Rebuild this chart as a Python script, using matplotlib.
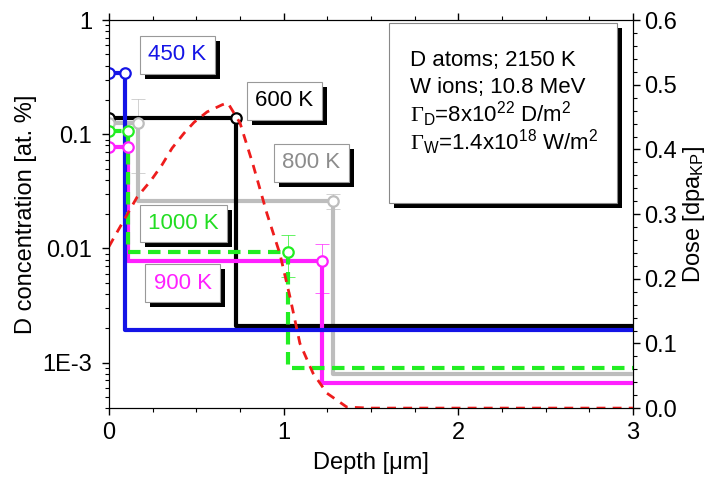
import numpy as np
import matplotlib
matplotlib.use("Agg")
import matplotlib.pyplot as plt
from matplotlib import patheffects as pe
from matplotlib.patches import Rectangle
from matplotlib.ticker import (FixedLocator, FixedFormatter, MultipleLocator,
                               LogLocator, NullFormatter, FormatStrFormatter)

plt.rcParams['font.family'] = ['Liberation Sans', 'DejaVu Sans']
plt.rcParams['mathtext.fontset'] = 'custom'
plt.rcParams['mathtext.rm'] = 'Liberation Serif'
plt.rcParams['mathtext.sf'] = 'Liberation Sans'
plt.rcParams['mathtext.it'] = 'Liberation Sans:italic'

# ── depth profiles (step model): depth [um], D concentration [at.%] ──
x_450 = [0, 0.092, 0.092, 3.0]
y_450 = [0.343, 0.343, 0.00195, 0.00195]
x_600 = [0, 0.727, 0.727, 3.0]
y_600 = [0.138, 0.138, 0.00211, 0.00211]
x_800 = [0, 0.167, 0.167, 1.28, 1.28, 3.0]
y_800 = [0.125, 0.125, 0.026, 0.026, 0.0008, 0.0008]
x_900 = [0, 0.11, 0.11, 1.22, 1.22, 3.0]
y_900 = [0.077, 0.077, 0.0077, 0.0077, 0.00066, 0.00066]
x_1000 = [0, 0.11, 0.11, 1.025, 1.025, 3.0]
y_1000 = [0.106, 0.106, 0.0094, 0.0094, 0.00089, 0.00089]

# circles at layer ends
mk_450 = ([0, 0.092], [0.343, 0.343])
mk_600 = ([0, 0.727], [0.138, 0.138])
mk_800 = ([0, 0.167, 1.28], [0.125, 0.125, 0.026])
mk_900 = ([0, 0.11, 1.22], [0.077, 0.077, 0.0077])
mk_1000 = ([0, 0.11, 1.025], [0.106, 0.106, 0.0094])

# error bars: x, value, lower, upper
err_800 = ([0.167, 1.28], [0.125, 0.026], [0.046, 0.022], [0.203, 0.030])
err_900 = ([1.22], [0.0077], [0.0041], [0.011])
err_1000 = ([1.025], [0.0094], [0.0056], [0.013])

# damage dose profile (right axis)
dose_x = [0.0, 0.029, 0.086, 0.160, 0.240, 0.303, 0.361, 0.429, 0.487, 0.561,
          0.647, 0.68, 0.75, 0.824, 0.904, 0.979, 1.036, 1.093, 1.168, 1.248,
          1.362, 1.5, 3.0]
dose_y = [0.250, 0.264, 0.291, 0.326, 0.352, 0.376, 0.402, 0.425, 0.442, 0.458,
          0.469, 0.472, 0.441, 0.377, 0.301, 0.238, 0.172, 0.100, 0.054, 0.023,
          0.0015, 0.0, 0.0]

# temperature tags: label, x, y, colour
tags = [('450 K', 0.392, 0.498, '#1414e6'),
        ('600 K', 1.004, 0.197, '#000000'),
        ('800 K', 1.159, 0.0562, '#8c8c8c'),
        ('1000 K', 0.427, 0.01656, '#22dd22'),
        ('900 K', 0.421, 0.00498, '#ff20ff')]

info_lines = ['D atoms; 2150 K',
              'W ions; 10.8 MeV',
              r'$\Gamma_{\mathsf{D}}$=8x10$^{\mathsf{22}}$ D/m$^{\mathsf{2}}$',
              r'$\Gamma_{\mathsf{W}}$=1.4x10$^{\mathsf{18}}$ W/m$^{\mathsf{2}}$']

C_BLUE = '#1414e6'
C_BLACK = '#000000'
C_GRAY = '#bdbdbd'
C_MAG = '#ff20ff'
C_GREEN = '#22ee22'
C_RED = '#ee1c1c'

FS = 17

fig = plt.figure(figsize=(7.08, 4.79), dpi=100)
ax = fig.add_axes([0.154, 0.148, 0.740, 0.810])
ax2 = ax.twinx()

LW = 3.0
ax.plot(x_450, y_450, color=C_BLUE, lw=LW, zorder=5)
ax.plot(x_600, y_600, color=C_BLACK, lw=LW, zorder=4)
ax.plot(x_800, y_800, color=C_GRAY, lw=LW, zorder=3)
ax.plot(x_900, y_900, color=C_MAG, lw=LW, zorder=4)
ax.plot(x_1000, y_1000, color=C_GREEN, lw=LW, ls=(0, (3, 1.8)), zorder=5)

for (mx, my), c in [(mk_450, C_BLUE), (mk_600, C_BLACK), (mk_800, C_GRAY),
                    (mk_900, C_MAG), (mk_1000, C_GREEN)]:
    ax.plot(mx, my, ls='none', marker='o', ms=7.5, mfc='white', mec=c, mew=1.6, zorder=6)

for (ex, ev, elo, ehi), c in [(err_800, C_GRAY), (err_900, C_MAG), (err_1000, C_GREEN)]:
    ev = np.array(ev)
    yerr = [ev - np.array(elo), np.array(ehi) - ev]
    ax.errorbar(ex, ev, yerr=yerr, fmt='none', ecolor=c, elinewidth=0.7,
                capsize=5, capthick=0.7, alpha=0.7, zorder=2)

# dose curve, right axis (drawn on top of the steps)
ax2.plot(dose_x, dose_y, color=C_RED, lw=2.0, ls=(0, (3.2, 2.6)))

ax.set_yscale('log')
ax.set_xlim(0, 3)
ax.set_ylim(4e-4, 1)
ax2.set_ylim(0, 0.6)

ax.xaxis.set_major_locator(MultipleLocator(1))
ax.xaxis.set_minor_locator(MultipleLocator(0.25))
ax.yaxis.set_major_locator(FixedLocator([1e-3, 1e-2, 1e-1, 1]))
ax.yaxis.set_major_formatter(FixedFormatter(['1E-3', '0.01', '0.1', '1']))
ax.yaxis.set_minor_locator(LogLocator(base=10, subs=np.arange(2, 10) * 1.0))
ax.yaxis.set_minor_formatter(NullFormatter())
ax2.yaxis.set_major_locator(MultipleLocator(0.1))
ax2.yaxis.set_minor_locator(MultipleLocator(0.02))
ax2.yaxis.set_major_formatter(FormatStrFormatter('%.1f'))

for a in (ax, ax2):
    a.tick_params(which='both', direction='out', labelsize=FS, pad=3)
    a.tick_params(which='major', length=5, width=1)
    a.tick_params(which='minor', length=3, width=0.8)
ax.tick_params(which='both', top=True, right=False)
ax.tick_params(axis='y', pad=7)
ax.tick_params(axis='x', pad=5)

ax.set_xlabel('Depth [\u03bcm]', fontsize=FS, labelpad=6)
ax.set_ylabel('D concentration [at. %]', fontsize=FS, labelpad=4)
ax2.set_ylabel(r'Dose [dpa$_{\mathsf{KP}}$]', fontsize=FS, labelpad=3)

shadow = [pe.withSimplePatchShadow(offset=(3.6, -3.6), shadow_rgbFace='black', alpha=1.0)]

for label, tx, ty, c in tags:
    t = ax.text(tx, ty, label, color=c, fontsize=16, ha='center', va='center', zorder=8,
                bbox=dict(boxstyle='square,pad=0.38', fc='white', ec='#999999', lw=0.8))
    t.get_bbox_patch().set_path_effects(shadow)

# info box
ax.add_patch(Rectangle((0.544, 0.515), 0.435, 0.464, transform=ax.transAxes,
                       fc='black', ec='none', zorder=9, clip_on=False))
ax.add_patch(Rectangle((0.534, 0.528), 0.435, 0.464, transform=ax.transAxes,
                       fc='white', ec='#888888', lw=0.8, zorder=9, clip_on=False))
for line, ly in zip(info_lines, [0.881, 0.812, 0.738, 0.666]):
    ax.text(0.574, ly, line, transform=ax.transAxes, fontsize=16, ha='left',
            va='baseline', zorder=10)

fig.savefig('out.png', dpi=100)
